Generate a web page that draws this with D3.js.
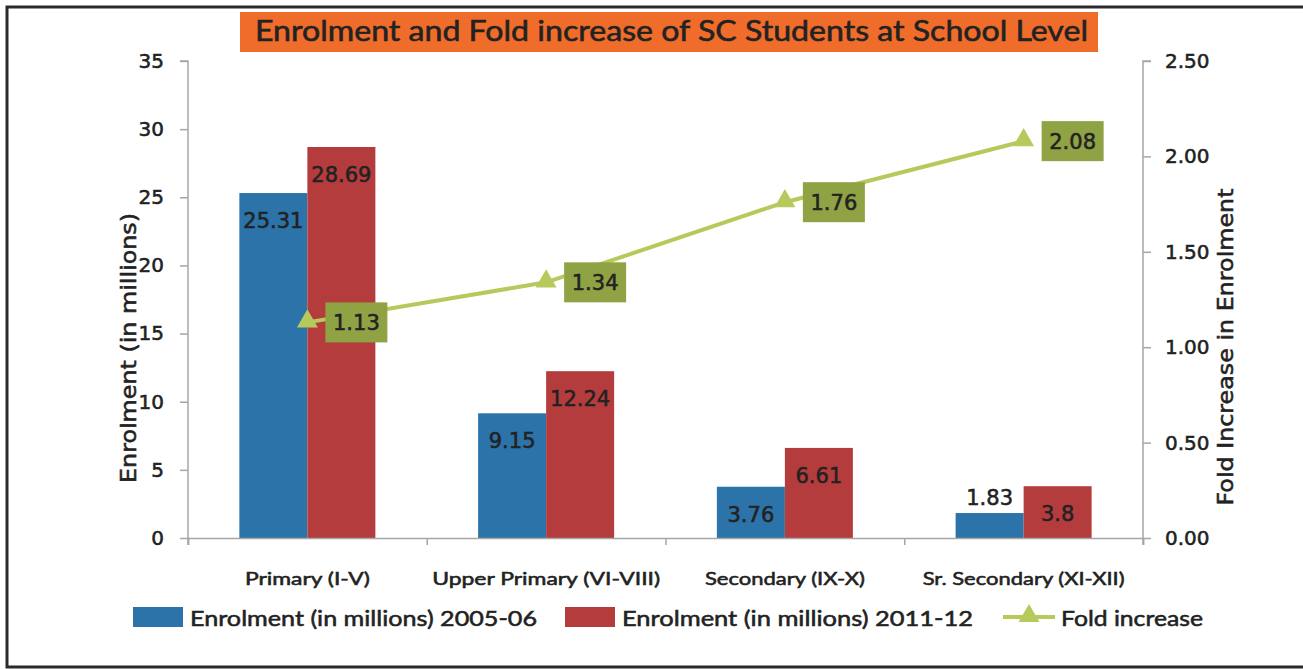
<!DOCTYPE html>
<html><head><meta charset="utf-8">
<script src="https://cdn.jsdelivr.net/npm/d3@7"></script>
<style>html,body{margin:0;padding:0;background:#fff;}svg{display:block;} text{stroke:#222;stroke-width:0.55px;}</style>
</head><body>
<svg id="chart" width="1303" height="669"></svg>
<script>
const categories = ["Primary (I-V)", "Upper Primary  (VI-VIII)", "Secondary (IX-X)", "Sr. Secondary (XI-XII)"];
const enrol2005 = [25.31, 9.15, 3.76, 1.83];
const enrol2011 = [28.69, 12.24, 6.61, 3.8];
const foldIncrease = [1.13, 1.34, 1.76, 2.08];
const seriesNames = ["Enrolment (in millions) 2005-06", "Enrolment (in millions)  2011-12", "Fold increase"];
const leftTicks = [0, 5, 10, 15, 20, 25, 30, 35];
const rightTicks = [0, 0.5, 1.0, 1.5, 2.0, 2.5];
const titleText = "Enrolment and Fold increase of SC Students at School Level";
const leftTitle = "Enrolment (in millions)";
const rightTitle = "Fold Increase in Enrolment";

const svg = d3.select("#chart");
const W = 1303, H = 669;
const plot = {l: 188, r: 1143, t: 61, b: 538};
const C = {blue: "#2b73a8", red: "#b53c3d", line: "#b6c95c", box: "#8fa244", axis: "#a6a6a6", text: "#222"};
const calibri = "Lato, 'Liberation Sans Narrow', 'Open Sans', sans-serif";
const verdana = "'DejaVu Sans', Verdana, sans-serif";

// frame
svg.append("path").attr("d", `M${W},7 L7,7 L7,667 L${W},667`).attr("fill", "none").attr("stroke", "#2a2a2a").attr("stroke-width", 3);

const x = d3.scaleBand().domain(categories).range([plot.l, plot.r]).paddingInner(0).paddingOuter(0);
const x1 = d3.scaleBand().domain([0, 1]).range([0, 136]);
const groupOffset = (x.bandwidth() - 136) / 2;
const yL = d3.scaleLinear().domain([0, 35]).range([plot.b, plot.t]);
const yR = d3.scaleLinear().domain([0, 2.5]).range([plot.b, plot.t]);

// bars
const barData = [];
categories.forEach((c, i) => {
  barData.push({c, s: 0, v: enrol2005[i]});
  barData.push({c, s: 1, v: enrol2011[i]});
});
svg.append("g").selectAll("rect").data(barData).join("rect")
  .attr("x", d => x(d.c) + groupOffset + x1(d.s))
  .attr("y", d => yL(d.v))
  .attr("width", x1.bandwidth())
  .attr("height", d => yL(0) - yL(d.v))
  .attr("fill", d => d.s === 0 ? C.blue : C.red);

// bar labels
svg.append("g").selectAll("text").data(barData).join("text")
  .attr("x", d => x(d.c) + groupOffset + x1(d.s) + x1.bandwidth() / 2)
  .attr("y", d => {
    const top = yL(d.v);
    return (yL(0) - top) < 40 ? top - 8 : top + 35;
  })
  .attr("text-anchor", "middle")
  .attr("font-family", verdana).attr("font-size", 21).attr("fill", C.text)
  .text(d => d.v);

// axes
const axisL = d3.axisLeft(yL).tickValues(leftTicks).tickSize(8).tickPadding(16).tickFormat(d3.format("d"));
const gL = svg.append("g").attr("transform", `translate(${plot.l},0)`).call(axisL);
const axisR = d3.axisRight(yR).tickValues(rightTicks).tickSize(8).tickPadding(14).tickFormat(d3.format(".2f"));
const gR = svg.append("g").attr("transform", `translate(${plot.r},0)`).call(axisR);
const axisB = d3.axisBottom(d3.scaleLinear().domain([0, 4]).range([plot.l, plot.r])).tickValues([0, 1, 2, 3, 4]).tickSize(7).tickFormat("");
const gB = svg.append("g").attr("transform", `translate(0,${plot.b})`).call(axisB);
[gL, gR, gB].forEach(g => {
  g.select(".domain").attr("stroke", C.axis).attr("stroke-width", 1.5);
  g.selectAll(".tick line").attr("stroke", C.axis).attr("stroke-width", 1.5);
  g.selectAll("text").attr("font-family", verdana).attr("font-size", 20).attr("fill", C.text);
});
gL.select(".domain").attr("d", `M-8,${plot.t}H0V${plot.b + 7}`);
gR.select(".domain").attr("d", `M8,${plot.t}H0V${plot.b + 7}`);

// category labels
const catWidths = [125, 228, 160, 202];
svg.append("g").selectAll("text").data(categories).join("text")
  .attr("x", d => x(d) + x.bandwidth() / 2)
  .attr("y", 585)
  .attr("text-anchor", "middle")
  .attr("font-family", calibri).attr("font-size", 18).attr("fill", C.text)
  .attr("textLength", (d, i) => catWidths[i]).attr("lengthAdjust", "spacingAndGlyphs")
  .text(d => d);

// axis titles
svg.append("text").attr("transform", `translate(136,348) rotate(-90)`)
  .attr("text-anchor", "middle").attr("font-family", verdana).attr("font-size", 21).attr("fill", C.text)
  .attr("textLength", 270).attr("lengthAdjust", "spacingAndGlyphs")
  .text(leftTitle);
svg.append("text").attr("transform", `translate(1233,347) rotate(-90)`)
  .attr("text-anchor", "middle").attr("font-family", verdana).attr("font-size", 21).attr("fill", C.text)
  .attr("textLength", 317).attr("lengthAdjust", "spacingAndGlyphs")
  .text(rightTitle);

// fold line
const cx = d => x(d) + x.bandwidth() / 2;
const linePts = categories.map((c, i) => [cx(c), yR(foldIncrease[i])]);
svg.append("path").attr("d", d3.line()(linePts)).attr("fill", "none").attr("stroke", C.line).attr("stroke-width", 4);
const tri = d3.symbol().type(d3.symbolTriangle).size(190);
svg.append("g").selectAll("path").data(linePts).join("path")
  .attr("transform", d => `translate(${d[0]},${d[1] - 1})`).attr("d", tri).attr("fill", C.line);

// fold labels
const lg = svg.append("g").selectAll("g").data(linePts).join("g")
  .attr("transform", d => `translate(${d[0] + 18},${d[1] - 20})`);
lg.append("rect").attr("width", 62).attr("height", 40).attr("fill", C.box);
lg.append("text").attr("x", 31).attr("y", 28).attr("text-anchor", "middle")
  .attr("font-family", verdana).attr("font-size", 21).attr("fill", C.text)
  .text((d, i) => foldIncrease[i].toFixed(2));

// title
svg.append("rect").attr("x", 240).attr("y", 12).attr("width", 858).attr("height", 40).attr("fill", "#ef6c2a");
svg.append("text").attr("x", 255).attr("y", 41).attr("font-family", calibri).attr("font-size", 28)
  .attr("fill", C.text).attr("textLength", 833).attr("lengthAdjust", "spacingAndGlyphs").text(titleText);

// legend
const leg = svg.append("g");
leg.append("rect").attr("x", 133).attr("y", 607).attr("width", 50).attr("height", 20).attr("fill", C.blue);
leg.append("text").attr("x", 190).attr("y", 626).attr("font-family", calibri).attr("font-size", 22).attr("fill", C.text)
  .attr("textLength", 347).attr("lengthAdjust", "spacingAndGlyphs").text(seriesNames[0]);
leg.append("rect").attr("x", 565).attr("y", 607).attr("width", 50).attr("height", 20).attr("fill", C.red);
leg.append("text").attr("x", 622).attr("y", 626).attr("font-family", calibri).attr("font-size", 22).attr("fill", C.text)
  .attr("textLength", 351).attr("lengthAdjust", "spacingAndGlyphs").text(seriesNames[1]);
leg.append("line").attr("x1", 1003).attr("x2", 1055).attr("y1", 617).attr("y2", 617).attr("stroke", C.line).attr("stroke-width", 4);
leg.append("path").attr("transform", "translate(1029,616)").attr("d", tri).attr("fill", C.line);
leg.append("text").attr("x", 1061).attr("y", 626).attr("font-family", calibri).attr("font-size", 22).attr("fill", C.text)
  .attr("textLength", 142).attr("lengthAdjust", "spacingAndGlyphs").text(seriesNames[2]);
</script>
</body></html>
